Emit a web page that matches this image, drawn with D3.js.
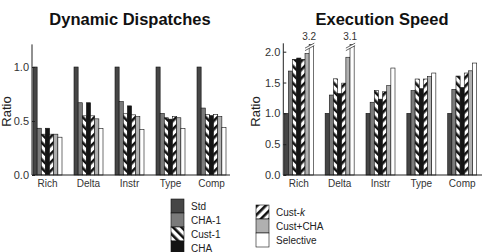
<!DOCTYPE html>
<html>
<head>
<meta charset="utf-8">
<script src="https://cdn.jsdelivr.net/npm/d3@7"></script>
<style>
  body { margin: 0; background: #fff; }
  svg { font-family: "Liberation Sans", Arial, sans-serif; }
  .chart-title { font-weight: bold; font-size: 16.5px; fill: #111; }
  .axis text { fill: #333; }
</style>
</head>
<body>
<svg id="chart" width="489" height="252"></svg>
<script>
const benchmarks = ["Rich", "Delta", "Instr", "Type", "Comp"];
const seriesNames = ["Std", "CHA-1", "Cust-1", "CHA", "Cust-k", "Cust+CHA", "Selective"];

// rows = benchmarks, columns = series
const dispatchRatios = [
  [1.0, 0.433, 0.378, 0.433, 0.378, 0.378, 0.35],
  [1.0, 0.669, 0.548, 0.669, 0.548, 0.52, 0.43],
  [1.0, 0.68, 0.567, 0.64, 0.557, 0.54, 0.42],
  [1.0, 0.57, 0.53, 0.517, 0.54, 0.53, 0.43],
  [1.0, 0.62, 0.56, 0.55, 0.56, 0.54, 0.44]
];
const speedRatios = [
  [1.0, 1.686, 1.876, 1.897, 1.876, 1.97, 3.2],
  [1.0, 1.297, 1.56, 1.32, 1.49, 1.91, 3.1],
  [1.0, 1.18, 1.37, 1.23, 1.35, 1.45, 1.735],
  [1.0, 1.37, 1.557, 1.40, 1.557, 1.595, 1.654],
  [1.0, 1.39, 1.605, 1.42, 1.654, 1.69, 1.816]
];
const dispatchTicks = [0, 0.5, 1.0];
const speedTicks = [0, 0.5, 1.0, 1.5, 2.0];

const fills = {
  "Std": "#464646",
  "CHA-1": "#7a7a7a",
  "Cust-1": "url(#hatchBack)",
  "CHA": "#141414",
  "Cust-k": "url(#hatchFwd)",
  "Cust+CHA": "#b0b0b0",
  "Selective": "#ffffff"
};

const svg = d3.select("#chart");
const defs = svg.append("defs");

function addHatch(id, angle) {
  const p = defs.append("pattern")
    .attr("id", id)
    .attr("patternUnits", "userSpaceOnUse")
    .attr("width", 6).attr("height", 6)
    .attr("patternTransform", `rotate(${angle})`);
  p.append("rect").attr("width", 6).attr("height", 6).attr("fill", "#fff");
  p.append("rect").attr("width", 2.6).attr("height", 6).attr("fill", "#111");
}
addHatch("hatchFwd", 45);
addHatch("hatchBack", -45);

function drawPanel(opts) {
  const { title, titleX, data, ticks, yMax, x0, groupW, step, axisEnd, yBottom, yTop, labelX, breaks } = opts;
  const g = svg.append("g");

  const y = d3.scaleLinear().domain([0, yMax]).range([yBottom, yTop]);
  const x = d3.scaleBand()
    .domain(benchmarks)
    .range([x0, x0 + step * benchmarks.length - (step - groupW)])
    .paddingInner((step - groupW) / step)
    .paddingOuter(0);
  const xs = d3.scaleBand().domain(seriesNames).range([0, x.bandwidth()]).padding(0);

  g.append("text")
    .attr("class", "chart-title")
    .attr("x", titleX)
    .attr("y", 25)
    .attr("text-anchor", "middle")
    .text(title);

  const clipTop = y(yMax);
  benchmarks.forEach((b, i) => {
    const grp = g.append("g").attr("transform", `translate(${x(b)},0)`);
    grp.selectAll("rect")
      .data(data[i].map((v, j) => ({ v, s: seriesNames[j] })))
      .enter().append("rect")
      .attr("x", d => xs(d.s))
      .attr("width", xs.bandwidth())
      .attr("y", d => Math.max(y(d.v), clipTop))
      .attr("height", d => yBottom - Math.max(y(d.v), clipTop))
      .attr("fill", d => fills[d.s])
      .attr("stroke", "#111")
      .attr("stroke-width", 0.6);
  });

  // broken bars
  (breaks || []).forEach(br => {
    const bx = x(br.bench);
    const sx = bx + xs(br.from);
    const ex = bx + xs("Selective") + xs.bandwidth() + 1;
    const yb = y(br.at);
    g.append("path")
      .attr("d", `M${sx},${yb + 2} L${ex},${yb - 3} L${ex},${yb - 5.5} L${sx},${yb - 0.5} Z`)
      .attr("fill", "#fff");
    [0, -2.5].forEach(o => {
      g.append("line")
        .attr("x1", sx).attr("y1", yb + 2 + o)
        .attr("x2", ex).attr("y2", yb - 3 + o)
        .attr("stroke", "#222").attr("stroke-width", 0.7);
    });
    g.append("text")
      .attr("x", bx + xs("Selective") + xs.bandwidth() / 2 - 2)
      .attr("y", clipTop - 4)
      .attr("text-anchor", "middle")
      .attr("font-size", 10)
      .attr("fill", "#333")
      .text(br.label);
  });

  // y axis
  const yAxis = g.append("g")
    .attr("class", "axis")
    .attr("transform", `translate(${x0 - 1},0)`)
    .call(d3.axisLeft(y).tickValues(ticks).tickFormat(d3.format(".1f")).tickSize(-3).tickPadding(3));
  yAxis.select(".domain").attr("d", `M0,${yBottom}V${yTop - 1}`).attr("stroke", "#222");
  yAxis.selectAll("line").attr("stroke", "#222");
  yAxis.selectAll("text").attr("font-size", 11).attr("dx", 0);

  // x axis
  const xAxis = g.append("g")
    .attr("class", "axis")
    .attr("transform", `translate(0,${yBottom})`)
    .call(d3.axisBottom(x).tickSize(0).tickPadding(5));
  xAxis.select(".domain").attr("d", `M${x0 - 1},0H${axisEnd}`).attr("stroke", "#222");
  xAxis.selectAll("text").attr("font-size", 10);

  g.append("text")
    .attr("transform", `translate(${labelX},${(yBottom + 48) / 2}) rotate(-90)`)
    .attr("text-anchor", "middle")
    .attr("font-size", 13)
    .attr("fill", "#222")
    .text("Ratio");
}

drawPanel({
  title: "Dynamic Dispatches", titleX: 130,
  data: dispatchRatios, ticks: dispatchTicks, yMax: 1.2,
  x0: 33, groupW: 29, step: 41, axisEnd: 230,
  yBottom: 175, yTop: 45.4, labelX: 11
});

drawPanel({
  title: "Execution Speed", titleX: 382,
  data: speedRatios, ticks: speedTicks, yMax: 2.12,
  x0: 284.3, groupW: 29, step: 40.85, axisEnd: 482,
  yBottom: 175, yTop: 44.3, labelX: 260,
  breaks: [
    { bench: "Rich", from: "Cust+CHA", at: 2.05, label: "3.2" },
    { bench: "Delta", from: "Cust+CHA", at: 2.05, label: "3.1" }
  ]
});

// legend
const legendCols = [
  { x: 171, y: 199, items: ["Std", "CHA-1", "Cust-1", "CHA"] },
  { x: 256, y: 205, items: ["Cust-k", "Cust+CHA", "Selective"] }
];
legendCols.forEach(col => {
  const lg = svg.append("g").attr("transform", `translate(${col.x},${col.y})`);
  const items = lg.selectAll("g").data(col.items).enter().append("g")
    .attr("transform", (d, i) => `translate(0,${i * 14})`);
  items.append("rect")
    .attr("width", 13).attr("height", 14)
    .attr("fill", d => fills[d])
    .attr("stroke", "#111").attr("stroke-width", 0.6);
  const t = items.append("text")
    .attr("x", 20).attr("y", 10.5)
    .attr("font-size", 10)
    .attr("fill", "#222");
  t.each(function(d) {
    const el = d3.select(this);
    if (d === "Cust-k") {
      el.append("tspan").text("Cust-");
      el.append("tspan").attr("font-style", "italic").text("k");
    } else {
      el.text(d);
    }
  });
});
</script>
</body>
</html>
